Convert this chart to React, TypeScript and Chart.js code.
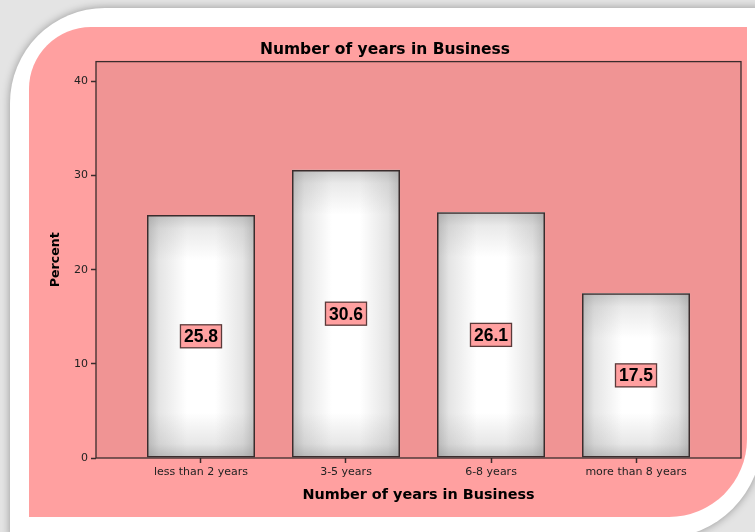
import React, { useEffect, useRef } from "react";
import { Chart, registerables } from "chart.js";

Chart.register(...registerables);

const categories = ["less than 2 years", "3-5 years", "6-8 years", "more than 8 years"];
const percents = [25.8, 30.6, 26.1, 17.5];
const yTickValues = [0, 10, 20, 30, 40];
const yMax = 42.1;
const chartTitle = "Number of years in Business";
const xTitle = "Number of years in Business";
const yTitle = "Percent";

const FONT = "'DejaVu Sans', Verdana, sans-serif";
const LABEL_FONT = "'Liberation Sans', Arial, sans-serif";
const OUTER_PINK = "#FFA0A0";
const PLOT_PINK = "#F09494";
const DARK = "#3a2c2c";

const decorPlugin = {
  id: "decor",
  beforeDraw(chart: any) {
    const { ctx, chartArea: a } = chart;
    ctx.save();
    ctx.fillStyle = PLOT_PINK;
    ctx.fillRect(a.left, a.top, a.right - a.left, a.bottom - a.top);
    ctx.restore();
  },
  beforeDatasetsDraw(chart: any) {
    const { ctx } = chart;
    const meta = chart.getDatasetMeta(0);
    meta.data.forEach((el: any) => {
      const { x, y, base, width } = el.getProps(["x", "y", "base", "width"], true);
      const l = x - width / 2;
      const r = x + width / 2;
      const t = Math.min(y, base);
      const b = Math.max(y, base);
      const w = r - l;
      const h = b - t;
      ctx.save();
      ctx.fillStyle = "#ffffff";
      ctx.fillRect(l, t, w, h);
      const edge = "rgba(135,135,135,";
      const sx = Math.min(0.45, 40 / w);
      const gh = ctx.createLinearGradient(l, 0, r, 0);
      gh.addColorStop(0, edge + "0.5)");
      gh.addColorStop(sx * 0.3, edge + "0.22)");
      gh.addColorStop(sx, edge + "0)");
      gh.addColorStop(1 - sx, edge + "0)");
      gh.addColorStop(1 - sx * 0.3, edge + "0.22)");
      gh.addColorStop(1, edge + "0.5)");
      ctx.fillStyle = gh;
      ctx.fillRect(l, t, w, h);
      const sy = Math.min(0.45, 45 / h);
      const gv = ctx.createLinearGradient(0, t, 0, b);
      gv.addColorStop(0, edge + "0.42)");
      gv.addColorStop(sy * 0.3, edge + "0.18)");
      gv.addColorStop(sy, edge + "0)");
      gv.addColorStop(1 - sy, edge + "0)");
      gv.addColorStop(1 - sy * 0.3, edge + "0.2)");
      gv.addColorStop(1, edge + "0.5)");
      ctx.fillStyle = gv;
      ctx.fillRect(l, t, w, h);
      ctx.restore();
    });
  },
  afterDatasetsDraw(chart: any) {
    const { ctx, chartArea: a } = chart;
    ctx.save();
    ctx.strokeStyle = DARK;
    ctx.lineWidth = 1.3;
    ctx.strokeRect(a.left, a.top, a.right - a.left, a.bottom - a.top);
    const meta = chart.getDatasetMeta(0);
    ctx.font = `bold 17.5px ${LABEL_FONT}`;
    ctx.textAlign = "center";
    ctx.textBaseline = "middle";
    meta.data.forEach((el: any, i: number) => {
      const { x, y, base } = el.getProps(["x", "y", "base"], true);
      const cy = (y + base) / 2;
      const txt = percents[i].toFixed(1);
      const tw = ctx.measureText(txt).width;
      const bw = tw + 7;
      const bh = 23;
      ctx.fillStyle = OUTER_PINK;
      ctx.fillRect(x - bw / 2, cy - bh / 2, bw, bh);
      ctx.strokeStyle = "#5a3a3a";
      ctx.lineWidth = 1.3;
      ctx.strokeRect(x - bw / 2, cy - bh / 2, bw, bh);
      ctx.fillStyle = "#000";
      ctx.fillText(txt, x, cy + 1);
    });
    ctx.restore();
  },
};

export default function App() {
  const canvasRef = useRef<HTMLCanvasElement | null>(null);

  useEffect(() => {
    if (!canvasRef.current) return;
    Chart.defaults.font.family = FONT;
    const chart = new Chart(canvasRef.current, {
      type: "bar",
      data: {
        datasets: [
          {
            data: percents.map((v, i) => ({ x: i, y: v })),
            backgroundColor: "rgba(0,0,0,0)",
            borderColor: DARK,
            borderWidth: 1.5,
            borderSkipped: false,
            barPercentage: 0.745,
            categoryPercentage: 1,
          },
        ],
      },
      options: {
        responsive: false,
        animation: false,
        devicePixelRatio: 1,
        layout: { padding: { top: 14, right: 6, left: 0, bottom: 0 } },
        plugins: {
          legend: { display: false },
          tooltip: { enabled: false },
          title: {
            display: true,
            text: chartTitle,
            color: "#000",
            font: { size: 15.5, weight: "bold", family: FONT },
            padding: { top: 0, bottom: 2 },
          },
        },
        scales: {
          x: {
            type: "linear",
            offset: false,
            min: -0.724,
            max: 3.724,
            afterBuildTicks: (scale: any) => {
              scale.ticks = categories.map((_, i) => ({ value: i }));
            },
            afterFit: (scale: any) => {
              scale.height = 59;
            },
            ticks: {
              autoSkip: false,
              maxRotation: 0,
              padding: 3,
              color: "#222",
              font: { size: 11, family: FONT },
              callback: (v: any) => categories[v] ?? "",
            },
            grid: {
              display: true,
              offset: false,
              drawOnChartArea: false,
              drawTicks: true,
              tickLength: 5,
              tickColor: DARK,
              tickWidth: 1.5,
            },
            border: { display: false },
            title: {
              display: true,
              text: xTitle,
              color: "#000",
              font: { size: 14.4, weight: "bold", family: FONT },
              padding: { top: 0, bottom: 13.4 },
            },
          },
          y: {
            min: 0,
            max: yMax,
            afterBuildTicks: (scale: any) => {
              scale.ticks = yTickValues.map((v) => ({ value: v }));
            },
            afterFit: (scale: any) => {
              scale.width = 67;
            },
            ticks: {
              padding: 3,
              color: "#222",
              font: { size: 11, family: FONT },
            },
            grid: {
              display: true,
              drawOnChartArea: false,
              drawTicks: true,
              tickLength: 5,
              tickColor: DARK,
              tickWidth: 1.5,
            },
            border: { display: false },
            title: {
              display: true,
              text: yTitle,
              color: "#000",
              font: { size: 12.6, weight: "bold", family: FONT },
              padding: { top: 19, bottom: 0 },
            },
          },
        },
      } as any,
      plugins: [decorPlugin],
    });
    return () => chart.destroy();
  }, []);

  return (
    <div
      style={{
        position: "fixed",
        left: 0,
        top: 0,
        width: 755,
        height: 532,
        overflow: "hidden",
        background: "#e4e4e4",
      }}
    >
      <div
        style={{
          position: "absolute",
          left: 10,
          top: 8,
          width: 752,
          height: 530,
          background: "#ffffff",
          borderRadius: "95px 0 100px 0",
          boxShadow: "0 0 9px rgba(0,0,0,0.35)",
        }}
      />
      <div
        style={{
          position: "absolute",
          left: 29,
          top: 27,
          width: 718,
          height: 490,
          background: OUTER_PINK,
          borderRadius: "62px 0 78px 0",
        }}
      >
        <canvas ref={canvasRef} width={718} height={490} style={{ display: "block" }} />
      </div>
    </div>
  );
}
